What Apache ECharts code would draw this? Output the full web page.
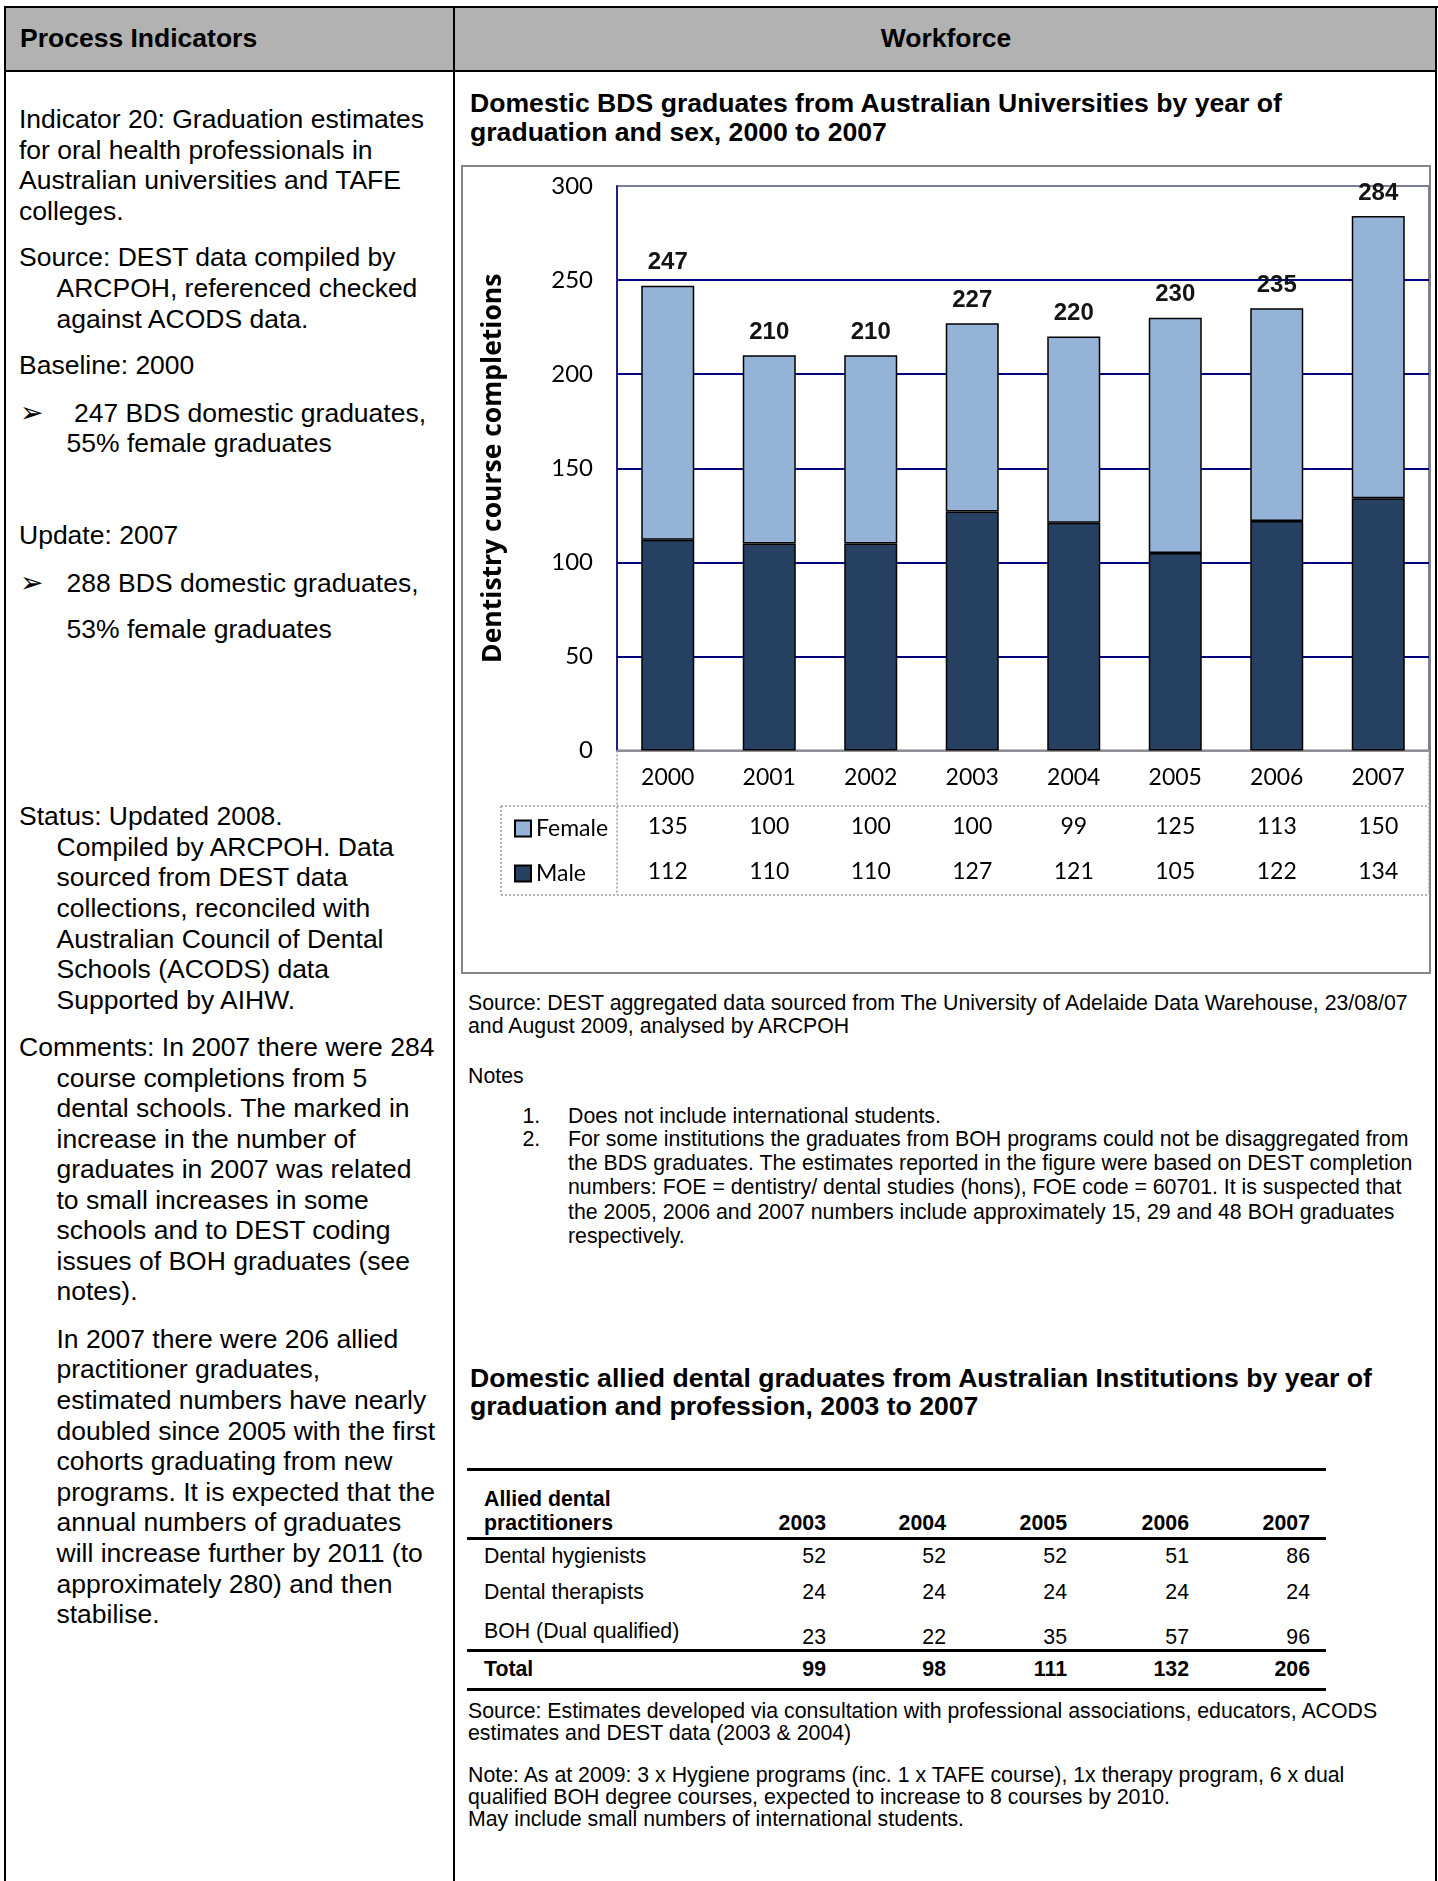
<!DOCTYPE html>
<html><head><meta charset="utf-8">
<script src="https://cdn.jsdelivr.net/npm/echarts@6/dist/echarts.min.js"></script>
<style>
html,body{margin:0;padding:0;background:#fff;}
body{width:1438px;height:1881px;position:relative;overflow:hidden;font-family:'Liberation Sans',Arial,Helvetica,sans-serif;color:#000;}
.box{position:absolute;}
.t{position:absolute;white-space:nowrap;line-height:1.15;}
</style></head><body>
<div id="page"></div>
<div class="box" style="left:461px;top:165px;width:970px;height:809px;border:2px solid #868686;box-sizing:border-box;"></div>
<div id="chart" style="position:absolute;left:461px;top:165px;width:970px;height:809px;"></div>
<script>
// ---------- data ----------
const years = ['2000','2001','2002','2003','2004','2005','2006','2007'];
const female = [135,100,100,100,99,125,113,150];
const male = [112,110,110,127,121,105,122,134];
const totals = [247,210,210,227,220,230,235,284];
const yMin = 0, yMax = 300, yStep = 50;

const alliedYears = ['2003','2004','2005','2006','2007'];
const hygienists = [52,52,52,51,86];
const therapists = [24,24,24,24,24];
const bohDual = [23,22,35,57,96];
const alliedTotal = [99,98,111,132,206];

// ---------- page layout ----------
const page = document.getElementById('page');
function rect(l,t,w,h,bg){const d=document.createElement('div');d.className='box';d.style.cssText=`left:${l}px;top:${t}px;width:${w}px;height:${h}px;background:${bg};`;page.appendChild(d);}
function txt(s,x,cy,fs,bold,align,w){
  const d=document.createElement('div');d.className='t';d.textContent=s;
  d.style.fontSize=fs+'px';d.style.top=(cy-0.6*fs)+'px';
  if(bold)d.style.fontWeight='bold';
  if(align==='right'){d.style.left=(x-300)+'px';d.style.width='300px';d.style.textAlign='right';}
  else if(align==='center'){d.style.left=(x-w/2)+'px';d.style.width=w+'px';d.style.textAlign='center';}
  else d.style.left=x+'px';
  page.appendChild(d);
}
// header + frame lines
rect(6,8,1429,62,'#b2b2b2');
rect(4,6,1434,2,'#000');
rect(4,6,2,1875,'#000');
rect(1435,6,2,1875,'#000');
rect(453,6,2,1875,'#000');
rect(4,70,1433,2,'#000');

const BIG=26.5, SM=21.3;
txt('Process Indicators',20,38.8,BIG,true);
txt('Workforce',946,38.8,BIG,true,'center',600);

// left column
const L0=19, L1=56.5;
[
 ['Indicator 20: Graduation estimates',L0,120],
 ['for oral health professionals in',L0,150.6],
 ['Australian universities and TAFE',L0,181.2],
 ['colleges.',L0,211.8],
 ['Source: DEST data compiled by',L0,258],
 ['ARCPOH, referenced checked',L1,289],
 ['against ACODS data.',L1,319.5],
 ['Baseline: 2000',L0,365.5],
 ['\u27A2',L0+1,413.5],
 ['247 BDS domestic graduates,',74,413.5],
 ['55% female graduates',66.5,443.8],
 ['Update: 2007',L0,536],
 ['\u27A2',L0+1,584],
 ['288 BDS domestic graduates,',66.5,584],
 ['53% female graduates',66.5,630],
 ['Status: Updated 2008.',L0,817],
 ['Compiled by ARCPOH. Data',L1,847.6],
 ['sourced from DEST data',L1,878.2],
 ['collections, reconciled with',L1,908.8],
 ['Australian Council of Dental',L1,939.4],
 ['Schools (ACODS) data',L1,970],
 ['Supported by AIHW.',L1,1000.6],
 ['Comments: In 2007 there were 284',L0,1048],
 ['course completions from 5',L1,1078.5],
 ['dental schools. The marked in',L1,1109],
 ['increase in the number of',L1,1139.5],
 ['graduates in 2007 was related',L1,1170],
 ['to small increases in some',L1,1200.5],
 ['schools and to DEST coding',L1,1231],
 ['issues of BOH graduates (see',L1,1261.7],
 ['notes).',L1,1292.3],
 ['In 2007 there were 206 allied',L1,1339.7],
 ['practitioner graduates,',L1,1370.3],
 ['estimated numbers have nearly',L1,1400.9],
 ['doubled since 2005 with the first',L1,1431.5],
 ['cohorts graduating from new',L1,1462],
 ['programs. It is expected that the',L1,1492.7],
 ['annual numbers of graduates',L1,1523.3],
 ['will increase further by 2011 (to',L1,1554],
 ['approximately 280) and then',L1,1584.5],
 ['stabilise.',L1,1615]
].forEach(a=>txt(a[0],a[1],a[2],a[0]==='\u27A2'?28:BIG,false));

// right column texts
const R0=470;
txt('Domestic BDS graduates from Australian Universities by year of',R0,104.4,26.6,true);
txt('graduation and sex, 2000 to 2007',R0,133,26.6,true);
txt('Source: DEST aggregated data sourced from The University of Adelaide Data Warehouse, 23/08/07',468,1003.5,SM);
txt('and August 2009, analysed by ARCPOH',468,1027,SM);
txt('Notes',468,1076.7,SM);
txt('1.',522.5,1117,SM);
txt('Does not include international students.',568,1117,SM);
txt('2.',522.5,1139.5,SM);
[
 'For some institutions the graduates from BOH programs could not be disaggregated from',
 'the BDS graduates. The estimates reported in the figure were based on DEST completion',
 'numbers:  FOE = dentistry/ dental studies (hons), FOE code = 60701. It is suspected that',
 'the 2005, 2006 and 2007 numbers include approximately  15, 29 and 48 BOH graduates',
 'respectively.'
].forEach((s,i)=>txt(s,568,1139.5+i*24.3,SM));

txt('Domestic allied dental graduates from Australian Institutions by year of',R0,1379,26.6,true);
txt('graduation and profession, 2003 to 2007',R0,1407,26.6,true);

// allied table
const colRight=[826,946,1067,1189,1310];
rect(467,1468,859,3,'#000');
rect(467,1537,859,3,'#000');
rect(467,1649,859,3,'#000');
rect(467,1688,859,3,'#000');
txt('Allied dental',484,1500,SM,true);
txt('practitioners',484,1524,SM,true);
alliedYears.forEach((y,i)=>txt(y,colRight[i],1524,SM,true,'right'));
txt('Dental hygienists',484,1557,SM);
hygienists.forEach((v,i)=>txt(String(v),colRight[i],1557,SM,false,'right'));
txt('Dental therapists',484,1592.5,SM);
therapists.forEach((v,i)=>txt(String(v),colRight[i],1592.5,SM,false,'right'));
txt('BOH (Dual qualified)',484,1632,SM);
bohDual.forEach((v,i)=>txt(String(v),colRight[i],1638,SM,false,'right'));
txt('Total',484,1670,SM,true);
alliedTotal.forEach((v,i)=>txt(String(v),colRight[i],1670,SM,true,'right'));

txt('Source: Estimates developed via consultation with professional associations, educators, ACODS',468,1712,SM);
txt('estimates and DEST data (2003 & 2004)',468,1733.5,SM);
txt('Note: As at 2009: 3 x Hygiene programs (inc. 1 x TAFE course), 1x therapy program, 6 x dual',468,1776,SM);
txt('qualified BOH degree courses, expected to increase to 8 courses by 2010.',468,1798,SM);
txt('May include small numbers of international students.',468,1820,SM);

// ---------- chart ----------
const cal = "Lato, 'Open Sans', 'Noto Sans', sans-serif";
const chart = echarts.init(document.getElementById('chart'), null, {renderer:'canvas'});
const gridL=156, gridT=21, gridW=812, gridH=564.5;
const zeroY = gridT+gridH;
const dotted = {stroke:'#9a9a9a', lineWidth:1.5, lineDash:[2,2]};
function gline(x1,y1,x2,y2){return {type:'line', silent:true, z:50, shape:{x1,y1,x2,y2}, style:dotted};}
chart.setOption({
  animation:false,
  grid:{left:gridL, top:gridT, width:gridW, height:gridH, show:true, borderColor:'#7c7c9c', borderWidth:2, backgroundColor:'transparent'},
  legend:{orient:'vertical', left:48, top:647, itemWidth:16, itemHeight:16, itemGap:22, icon:'rect', selectedMode:false,
    data:['Female','Male'], textStyle:{fontFamily:cal, fontSize:23, color:'#000'}},
  xAxis:[
    {type:'category', data:years, position:'bottom', axisLine:{show:true, lineStyle:{color:'#8c8c8c', width:2, type:'dotted'}},
     axisTick:{show:false}, axisLabel:{margin:16, fontFamily:cal, fontSize:23, color:'#000'}},
    {type:'category', data:years, position:'bottom', axisLine:{show:false}, axisTick:{show:false}, splitLine:{show:false},
     axisLabel:{margin:65, fontFamily:cal, fontSize:23, color:'#000', formatter:(v,i)=>String(female[i])}},
    {type:'category', data:years, position:'bottom', axisLine:{show:false}, axisTick:{show:false}, splitLine:{show:false},
     axisLabel:{margin:110, fontFamily:cal, fontSize:23, color:'#000', formatter:(v,i)=>String(male[i])}}
  ],
  yAxis:{type:'value', min:yMin, max:yMax, interval:yStep,
    axisLine:{show:true, lineStyle:{color:'#000080', width:1.5}}, axisTick:{show:false},
    splitLine:{show:true, showMinLine:false, showMaxLine:false, lineStyle:{color:'#000080', width:2}},
    axisLabel:{margin:24, fontFamily:cal, fontSize:24, color:'#000'},
    name:'Dentistry course completions', nameLocation:'middle', nameRotate:90, nameGap:110,
    nameTextStyle:{fontFamily:"'Open Sans', 'Noto Sans', sans-serif", fontWeight:'bold', fontSize:26.5, color:'#000'}},
  series:[
    {name:'Male', type:'bar', stack:'total', data:male, barWidth:53, xAxisIndex:0,
     itemStyle:{color:'#254061', borderColor:'#000', borderWidth:1.5}},
    {name:'Female', type:'bar', stack:'total', data:female, barWidth:53, xAxisIndex:0,
     itemStyle:{color:'#95B3D7', borderColor:'#000', borderWidth:1.5},
     label:{show:true, position:'top', distance:11, formatter:p=>String(totals[p.dataIndex]),
       fontFamily:"'Liberation Sans', Arial, sans-serif", fontWeight:'bold', fontSize:24, color:'#141414'}}
  ],
  graphic:[
    gline(40,641,968,641),
    gline(40,730,968,730),
    gline(gridL,zeroY,gridL,730),
    gline(40,641,40,730),
    gline(968,zeroY,968,730)
  ]
});
</script>
</body></html>
